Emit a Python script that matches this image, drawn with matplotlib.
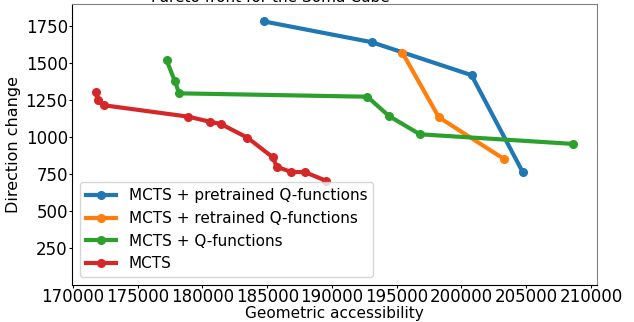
import matplotlib
matplotlib.use("Agg")
import matplotlib.pyplot as plt

# Pareto fronts: geometric accessibility (x) vs direction change (y)
PRE_X = [184753, 193063, 200779, 204738]
PRE_Y = [1782, 1642, 1419, 763]

RETR_X = [195432, 198256, 203326]
RETR_Y = [1572, 1134, 850]

QF_X = [177222, 177863, 178194, 192731, 194398, 196790, 208627]
QF_Y = [1521, 1379, 1296, 1273, 1143, 1019, 954]

MCTS_X = [171767, 171898, 172407, 178920, 180563, 181412, 183472,
          185424, 185733, 186813, 187917, 189568]
MCTS_Y = [1302, 1251, 1215, 1138, 1104, 1089, 996, 864, 800, 765, 763, 704]

LABELS = ["MCTS + pretrained Q-functions", "MCTS + retrained Q-functions",
          "MCTS + Q-functions", "MCTS"]
COLORS = ["#1f77b4", "#ff7f0e", "#2ca02c", "#d62728"]

fig = plt.figure(figsize=(6.34, 3.22), dpi=100)
ax = fig.add_axes([0.1136, 0.1149, 0.828, 0.8727])

series = [(PRE_X, PRE_Y), (RETR_X, RETR_Y), (QF_X, QF_Y), (MCTS_X, MCTS_Y)]
for (xs, ys), lab, col in zip(series, LABELS, COLORS):
    ax.plot(xs, ys, marker="o", markersize=5.5, linewidth=3, color=col, label=lab)

ax.set_ylim(0, 1900)
ax.set_yticks([250, 500, 750, 1000, 1250, 1500, 1750])
ax.tick_params(labelsize=12, length=2, pad=1)
ax.tick_params(axis="x", pad=0.5)
ax.set_xlabel("Geometric accessibility", fontsize=11, labelpad=0)
ax.set_ylabel("Direction change", fontsize=11.5, labelpad=3)
ax.legend(loc="lower left", fontsize=11, handlelength=2.0)

for side in ("top", "right"):
    ax.spines[side].set_color("0.5")

fig.text(270 / 634, 1 - 2 / 322, "Pareto front for the Soma Cube",
         ha="center", va="baseline", fontsize=11)

fig.savefig("out.png", dpi=100)
